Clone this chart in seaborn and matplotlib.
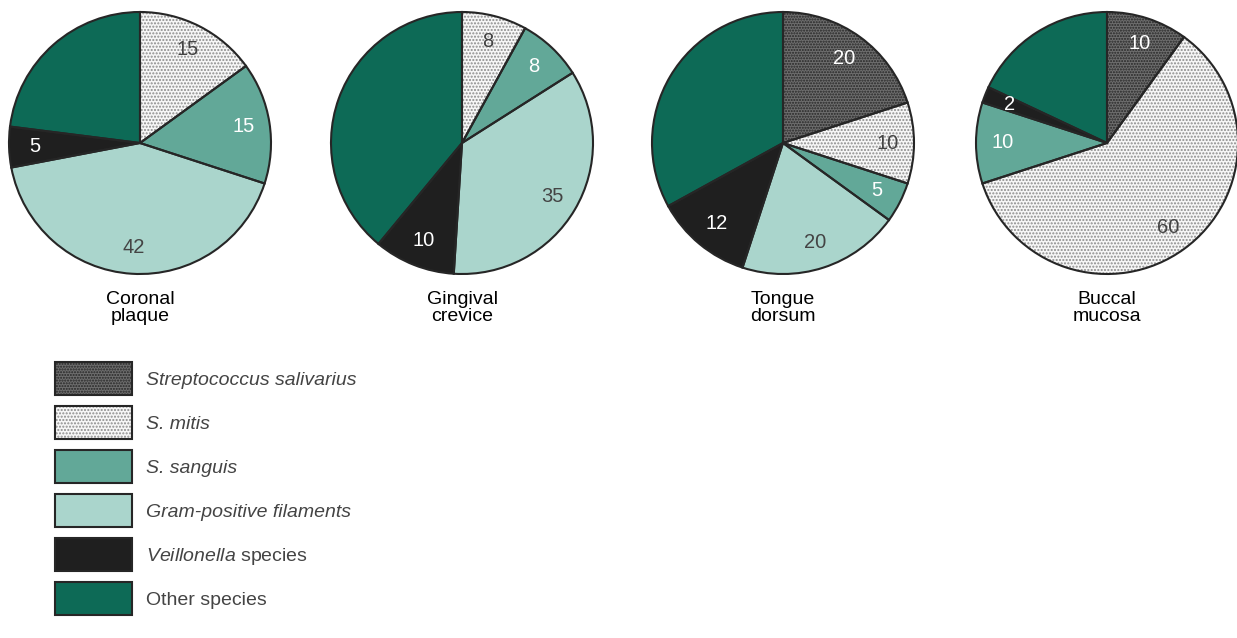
import numpy as np
import matplotlib
matplotlib.use("Agg")
import matplotlib.pyplot as plt
import seaborn as sns
from matplotlib.patches import Patch
from matplotlib.legend_handler import HandlerTuple

# ---- data ----
species = ["Streptococcus salivarius", "S. mitis", "S. sanguis",
           "Gram-positive filaments", "Veillonella species", "Other species"]
sites = ["Coronal\nplaque", "Gingival\ncrevice", "Tongue\ndorsum", "Buccal\nmucosa"]
coronal_plaque = [0, 15, 15, 42, 5, 23]
gingival_crevice = [0, 8, 8, 35, 10, 39]
tongue_dorsum = [20, 10, 5, 20, 12, 33]
buccal_mucosa = [10, 60, 10, 0, 2, 18]
site_values = [coronal_plaque, gingival_crevice, tongue_dorsum, buccal_mucosa]
labelled = [True, True, True, True, True, False]

# ---- styles ----
sns.set_theme(style="white")
plt.rcParams["font.family"] = ["Liberation Sans", "DejaVu Sans"]
plt.rcParams["mathtext.fontset"] = "custom"
plt.rcParams["mathtext.it"] = "Liberation Sans:italic"
plt.rcParams["mathtext.rm"] = "Liberation Sans"
plt.rcParams["hatch.linewidth"] = 1.0

faces = sns.color_palette(["#6e6e6e", "#f7f7f7", "#62a898", "#aad5cc", "#1f1f1f", "#0d6a56"])
hatches = ["......", ".....", None, None, None, None]
hatch_cols = ["#262626", "#8c8c8c", None, None, None, None]
text_cols = ["white", "#444444", "white", "#444444", "white", "white"]
edge_col = "#262626"

W, H = 1237, 638
fig = plt.figure(figsize=(W / 100, H / 100), dpi=100)
fig.patch.set_facecolor("white")

centers_x = [140, 462, 783, 1107]
cy = 143
r = 131
pad = 1.02

for site, vals, cx in zip(sites, site_values, centers_x):
    rr = r * pad
    ax = fig.add_axes([(cx - rr) / W, 1 - (cy + rr) / H, 2 * rr / W, 2 * rr / H])
    idx = [i for i, v in enumerate(vals) if v > 0]
    v = [vals[i] for i in idx]
    wedges, _ = ax.pie(v, colors=[faces[i] for i in idx], startangle=90,
                       counterclock=False, wedgeprops=dict(linewidth=0))
    for w, i in zip(wedges, idx):
        if hatches[i]:
            w.set_hatch(hatches[i])
            w.set_edgecolor(hatch_cols[i])
            w.set_linewidth(0)
    ax.pie(v, colors=["none"] * len(v), startangle=90, counterclock=False,
           wedgeprops=dict(linewidth=1.5, edgecolor=edge_col, fill=False))
    for w, i in zip(wedges, idx):
        if labelled[i]:
            ang = np.deg2rad((w.theta1 + w.theta2) / 2)
            ax.text(0.8 * np.cos(ang), 0.8 * np.sin(ang), str(vals[i]),
                    ha="center", va="center", fontsize=14.5, color=text_cols[i])
    ax.set_xlim(-pad, pad)
    ax.set_ylim(-pad, pad)
    ax.set_aspect("equal")
    ax.axis("off")
    fig.text(cx / W, 1 - 308 / H, site, ha="center", va="center",
             fontsize=14, color="black", linespacing=1.0)

# ---- legend ----
handles = []
for i in range(len(species)):
    base = Patch(facecolor=faces[i], hatch=hatches[i],
                 edgecolor=hatch_cols[i] if hatches[i] else faces[i], linewidth=0)
    outline = Patch(facecolor="none", edgecolor=edge_col, linewidth=1.5)
    handles.append((base, outline))

leg_labels = [species[0], species[1], species[2], species[3],
              r"$\mathit{Veillonella}$ species", species[5]]
fs = 14
box_h_pt = 33 * 0.72
box_w_pt = 77 * 0.72
hh = (box_h_pt / fs - 0.245) / 0.65
leg = fig.legend(handles, leg_labels, handler_map={tuple: HandlerTuple(ndivide=1)},
                 loc="upper left", bbox_to_anchor=(55 / W, 1 - 362 / H),
                 frameon=False, borderpad=0, borderaxespad=0,
                 handlelength=box_w_pt / fs, handleheight=hh,
                 labelspacing=11 * 0.72 / fs, handletextpad=0.7, fontsize=fs,
                 labelcolor="#444444")
for t in leg.get_texts()[:4]:
    t.set_fontstyle("italic")

fig.savefig("out.png", dpi=100, facecolor="white")
